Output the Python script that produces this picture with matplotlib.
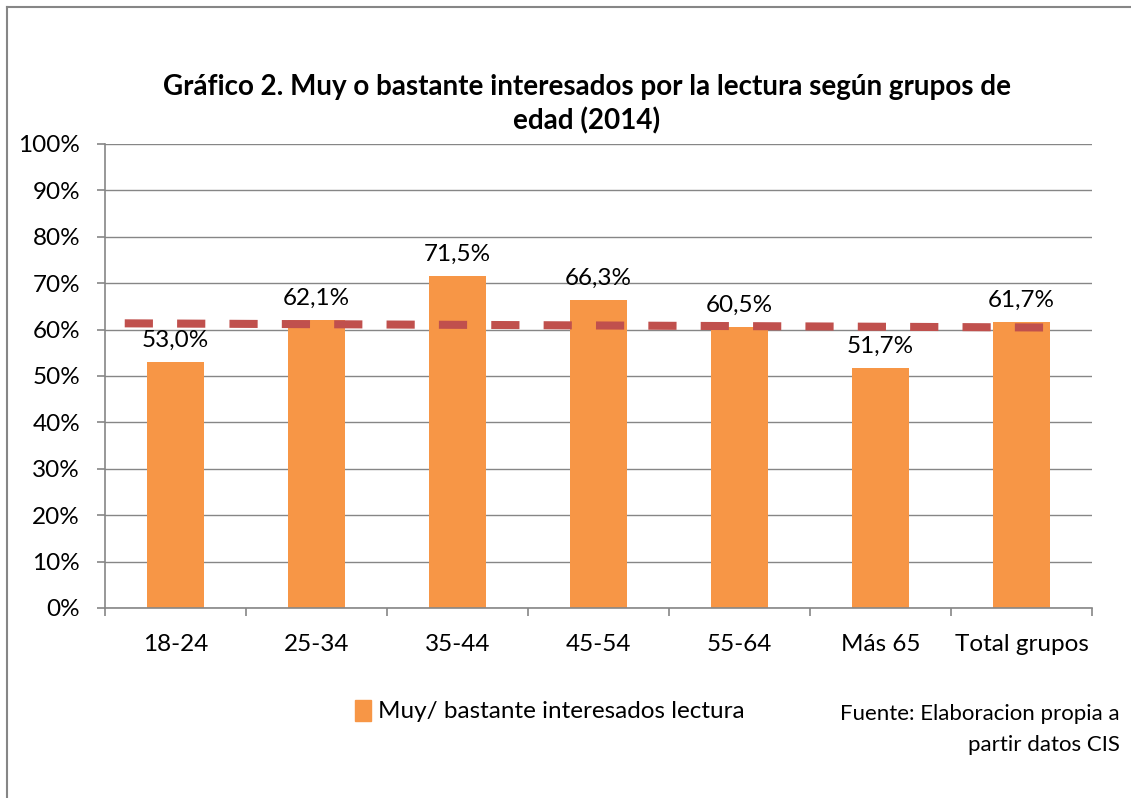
import matplotlib
matplotlib.use("Agg")
import matplotlib.pyplot as plt
from matplotlib.lines import Line2D
from matplotlib.patches import Patch
import numpy as np

# datos del gráfico
grupos = ["18-24", "25-34", "35-44", "45-54", "55-64", "Más 65", "Total grupos"]
valores = [53.0, 62.1, 71.5, 66.3, 60.5, 51.7, 61.7]
etiquetas = ["53,0%", "62,1%", "71,5%", "66,3%", "60,5%", "51,7%", "61,7%"]
tendencia_x = [-0.36, 6.19]      # línea de tendencia (lineal)
tendencia_y = [61.35, 60.45]
y_ticks = list(range(0, 101, 10))

naranja = "#F79646"
rojo = "#C0504D"
gris = "#868686"

plt.rcParams["font.family"] = ["Lato", "DejaVu Sans"]
fs = 17.5

W, H = 1131, 798
fig = plt.figure(figsize=(W / 100, H / 100), dpi=100)
ax = fig.add_axes([105 / W, 1 - 608 / H, (1092 - 105) / W, (608 - 144) / H])

x = np.arange(len(grupos))
ax.bar(x, valores, width=0.40, color=naranja, zorder=2)
ax.plot(tendencia_x, tendencia_y, color=rojo, lw=5.8, dashes=(3.5, 3.0),
        solid_capstyle="butt", dash_capstyle="butt", zorder=3)

for xi, v, lab in zip(x, valores, etiquetas):
    ax.annotate(lab, (xi, v), xytext=(0, 8), textcoords="offset points",
                ha="center", va="bottom", fontsize=fs, color="black", zorder=4)

ax.set_xlim(-0.5, len(grupos) - 0.5)
ax.set_ylim(0, 100)
ax.set_yticks(y_ticks)
ax.set_yticklabels([f"{t}%" for t in y_ticks])
ax.set_xticks(x)
ax.set_xticklabels(grupos)
ax.set_xticks(np.arange(-0.5, len(grupos)), minor=True)
ax.tick_params(axis="x", which="major", length=0, pad=19, labelsize=fs)
ax.tick_params(axis="x", which="minor", length=6, width=1.2, color=gris, direction="out")
ax.tick_params(axis="y", length=6, width=1.2, color=gris, pad=12, labelsize=fs)

ax.grid(axis="y", color=gris, lw=1.0, zorder=0)
ax.set_axisbelow(True)
for s in ["top", "right"]:
    ax.spines[s].set_visible(False)
for s in ["left", "bottom"]:
    ax.spines[s].set_color(gris)
    ax.spines[s].set_linewidth(1.2)

# título
fig.text(587 / W, 1 - 87 / H, "Gráfico 2. Muy o bastante interesados por la lectura según grupos de",
         ha="center", va="center", fontsize=20, fontweight="bold")
fig.text(587 / W, 1 - 121 / H, "edad (2014)",
         ha="center", va="center", fontsize=20, fontweight="bold")

# leyenda
fig.legend(handles=[Patch(color=naranja, label="Muy/ bastante interesados lectura")],
           loc="center left", bbox_to_anchor=(355 / W, 1 - 711 / H), frameon=False,
           fontsize=fs, handlelength=0.65, handleheight=0.95, handletextpad=0.3,
           borderpad=0, borderaxespad=0)

# fuente
fig.text(1120 / W, 1 - 714 / H, "Fuente: Elaboracion propia a", ha="right", va="center", fontsize=16)
fig.text(1120 / W, 1 - 745 / H, "partir datos CIS", ha="right", va="center", fontsize=16)

# marco exterior
fig.add_artist(Line2D([7 / W, 7 / W], [0, 1 - 7 / H], transform=fig.transFigure, color=gris, lw=1.5))
fig.add_artist(Line2D([7 / W, 1], [1 - 7 / H, 1 - 7 / H], transform=fig.transFigure, color=gris, lw=1.5))

fig.savefig("out.png", dpi=100, facecolor="white")
